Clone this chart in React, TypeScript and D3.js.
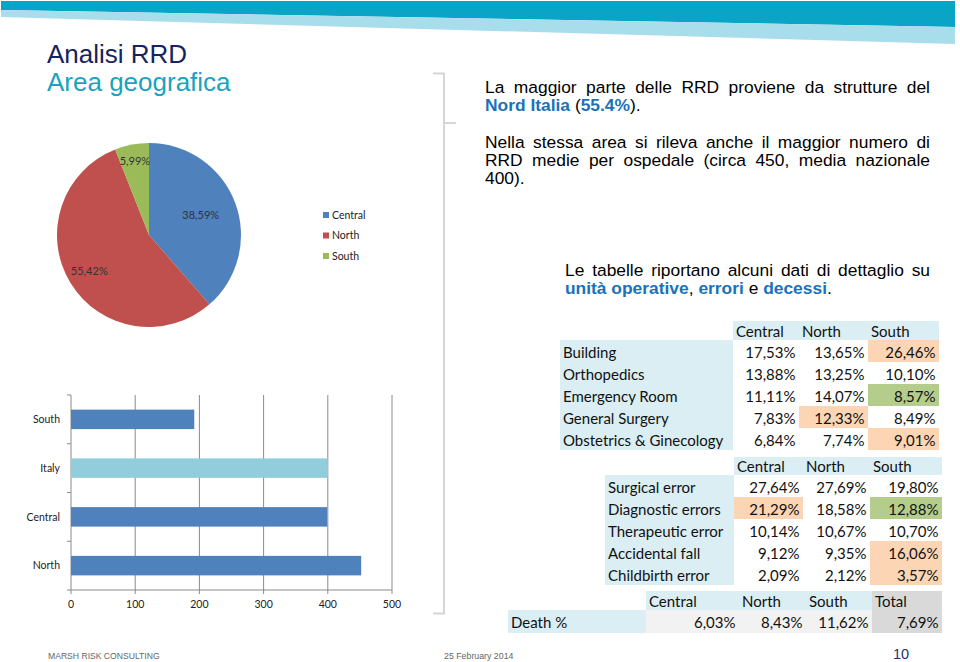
import React from "react";
import * as d3 from "d3";

// ---------- DATA ----------
const pieCategories = ["Central", "North", "South"];
const pieValues = [38.59, 55.42, 5.99];

const barCategories = ["South", "Italy", "Central", "North"];
const barValues = [192, 400, 399, 452];
const barTicks = [0, 100, 200, 300, 400, 500];

const unitColumns = ["Central", "North", "South"];
const unitRows = ["Building", "Orthopedics", "Emergency Room", "General Surgery", "Obstetrics & Ginecology"];
const unitValues = [
  [17.53, 13.65, 26.46],
  [13.88, 13.25, 10.1],
  [11.11, 14.07, 8.57],
  [7.83, 12.33, 8.49],
  [6.84, 7.74, 9.01],
];

const errorColumns = ["Central", "North", "South"];
const errorRows = ["Surgical error", "Diagnostic errors", "Therapeutic error", "Accidental fall", "Childbirth error"];
const errorValues = [
  [27.64, 27.69, 19.8],
  [21.29, 18.58, 12.88],
  [10.14, 10.67, 10.7],
  [9.12, 9.35, 16.06],
  [2.09, 2.12, 3.57],
];

const deathColumns = ["Central", "North", "South", "Total"];
const deathRows = ["Death %"];
const deathValues = [[6.03, 8.43, 11.62, 7.69]];

// ---------- STYLE ----------
const SANS = "'Liberation Sans', Arial, sans-serif";
const CAL = "Lato, 'Open Sans', sans-serif";
const BLUE_TXT = "#1B72B8";
const pieColors = ["#4F81BD", "#C0504D", "#9BBB59"];
const pieLabelRadius = [0.6, 0.76, 0.82];
const LIGHT = "#DAEEF3";
const ORANGE = "#FCD5B4";
const GREEN = "#B4CC8C";
const unitHighlight = [
  [null, null, ORANGE],
  [null, null, null],
  [null, null, GREEN],
  [null, ORANGE, null],
  [null, null, ORANGE],
];
const errorHighlight = [
  [null, null, null],
  [ORANGE, null, GREEN],
  [null, null, null],
  [null, null, ORANGE],
  [null, null, ORANGE],
];

const fmt = (v: number) => d3.format(".2f")(v).replace(".", ",") + "%";

let ctx: CanvasRenderingContext2D | null = null;
function measure(t: string, font: string) {
  if (!ctx) ctx = document.createElement("canvas").getContext("2d");
  ctx!.font = font;
  return ctx!.measureText(t).width;
}

function Justified({ text, x0, x1, y, size }: { text: string; x0: number; x1: number; y: number; size: number }) {
  const words = text.split(" ");
  const font = `${size}px 'Liberation Sans'`;
  const widths = words.map((w) => measure(w, font));
  const total = d3.sum(widths);
  const gap = (x1 - x0 - total) / (words.length - 1);
  let x = x0;
  return (
    <text y={y} fontFamily={SANS} fontSize={size} fill="#000">
      {words.map((w, i) => {
        const el = (
          <tspan key={i} x={x}>
            {w}
          </tspan>
        );
        x += widths[i] + gap;
        return el;
      })}
    </text>
  );
}

type TableProps = {
  columns: string[];
  rows: string[];
  values: number[][];
  highlight?: (string | null)[][];
  labelX0: number;
  colEdges: number[];
  headerTop: number;
  headerH: number;
  rowTop: number;
  rowH: number;
  headerFill?: (string | null)[];
  cellFill?: (string | null)[];
  fontSize: number;
};

function Table(p: TableProps) {
  const bodyBottom = p.rowTop + p.rows.length * p.rowH;
  return (
    <g fontFamily={CAL} fontSize={p.fontSize} fill="#111">
      {p.columns.map((c, j) => (
        <rect
          key={"hb" + j}
          x={p.colEdges[j]}
          y={p.headerTop}
          width={p.colEdges[j + 1] - p.colEdges[j]}
          height={p.headerH}
          fill={(p.headerFill && p.headerFill[j]) || LIGHT}
        />
      ))}
      <rect x={p.labelX0} y={p.rowTop} width={p.colEdges[0] - p.labelX0} height={bodyBottom - p.rowTop} fill={LIGHT} />
      {p.rows.map((r, i) =>
        p.columns.map((c, j) => {
          const f = (p.highlight && p.highlight[i][j]) || (p.cellFill && p.cellFill[j]) || null;
          return f ? (
            <rect
              key={"c" + i + "-" + j}
              x={p.colEdges[j]}
              y={p.rowTop + i * p.rowH}
              width={p.colEdges[j + 1] - p.colEdges[j]}
              height={p.rowH}
              fill={f}
            />
          ) : null;
        })
      )}
      {p.columns.map((c, j) => (
        <text key={"ht" + j} x={p.colEdges[j] + 3} y={p.headerTop + p.headerH - 3.5}>
          {c}
        </text>
      ))}
      {p.rows.map((r, i) => (
        <text key={"rl" + i} x={p.labelX0 + 3} y={p.rowTop + i * p.rowH + 17.5}>
          {r}
        </text>
      ))}
      {p.values.map((row, i) =>
        row.map((v, j) => (
          <text key={"v" + i + "-" + j} x={p.colEdges[j + 1] - 3.5} y={p.rowTop + i * p.rowH + 17.5} textAnchor="end">
            {fmt(v)}
          </text>
        ))
      )}
    </g>
  );
}

export default function App() {
  // Pie
  const cx = 149,
    cy = 235,
    R = 92;
  const pie = d3.pie<number>().sort(null).value((d) => d)(pieValues);
  const arc = d3.arc<d3.PieArcDatum<number>>().innerRadius(0).outerRadius(R);

  // Bars
  const x = d3.scaleLinear().domain([0, 500]).range([71, 392]);
  const y = d3.scaleBand<string>().domain(barCategories).range([395, 590]).paddingInner(0.6).paddingOuter(0.3);
  const step = y.step();
  const [yTop, yBot] = y.range();

  return (
    <svg width={960} height={662} style={{ position: "absolute", left: 0, top: 0, background: "#fff" }}>
      <rect width={960} height={662} fill="#fff" />
      {/* banner */}
      <polygon points="1,1 955,1 955,27 1,10" fill="#0AA5C6" />
      <polygon points="1,10 955,27 955,44 1,17" fill="#A8DDEC" />

      {/* titles */}
      <text x={47} y={63} fontFamily={SANS} fontSize={26} fill="#14245E">
        Analisi RRD
      </text>
      <text x={47} y={90.5} fontFamily={SANS} fontSize={26} fill="#1AA3BE">
        Area geografica
      </text>

      {/* bracket */}
      <path d="M433,73.5 H444 V613.5 H433" fill="none" stroke="#D6D6D6" strokeWidth={2} />
      <path d="M444,123 H456" fill="none" stroke="#D6D6D6" strokeWidth={2} />

      {/* paragraphs */}
      <Justified text="La maggior parte delle RRD proviene da strutture del" x0={485} x1={930} y={93} size={17.4} />
      <text x={485} y={110.5} fontFamily={SANS} fontSize={17.4} fill="#000">
        <tspan fontWeight="bold" fill={BLUE_TXT}>
          Nord Italia
        </tspan>
        <tspan> (</tspan>
        <tspan fontWeight="bold" fill={BLUE_TXT}>
          55.4%
        </tspan>
        <tspan>).</tspan>
      </text>
      <Justified text="Nella stessa area si rileva anche il maggior numero di" x0={485} x1={930} y={147.5} size={17.4} />
      <Justified text="RRD medie per ospedale (circa 450, media nazionale" x0={485} x1={930} y={165.5} size={17.4} />
      <text x={485} y={183.5} fontFamily={SANS} fontSize={17.4} fill="#000">
        400).
      </text>
      <Justified text="Le tabelle riportano alcuni dati di dettaglio su" x0={565} x1={930} y={276} size={17.4} />
      <text x={565} y={293.5} fontFamily={SANS} fontSize={17.4} fill="#000">
        <tspan fontWeight="bold" fill={BLUE_TXT}>
          unità operative
        </tspan>
        <tspan>, </tspan>
        <tspan fontWeight="bold" fill={BLUE_TXT}>
          errori
        </tspan>
        <tspan> e </tspan>
        <tspan fontWeight="bold" fill={BLUE_TXT}>
          decessi
        </tspan>
        <tspan>.</tspan>
      </text>

      {/* pie */}
      <g transform={`translate(${cx},${cy})`}>
        {pie.map((d, i) => (
          <path key={i} d={arc(d) as string} fill={pieColors[i]} />
        ))}
        {pie.map((d, i) => {
          const a = (d.startAngle + d.endAngle) / 2;
          const r = R * pieLabelRadius[i];
          return (
            <text
              key={"l" + i}
              x={Math.sin(a) * r}
              y={-Math.cos(a) * r}
              dy="0.35em"
              textAnchor="middle"
              fontFamily={CAL}
              fontSize={11}
              fill="#333"
            >
              {fmt(pieValues[i])}
            </text>
          );
        })}
      </g>
      {/* pie legend */}
      <g fontFamily={CAL} fontSize={10.5} fill="#222">
        {pieCategories.map((c, i) => (
          <g key={c} transform={`translate(323,${215 + i * 20.5})`}>
            <rect x={0} y={-3} width={6} height={6} fill={pieColors[i]} />
            <text x={9} dy="0.35em">
              {c}
            </text>
          </g>
        ))}
      </g>

      {/* bar chart */}
      <g>
        {barTicks.map((t) => (
          <line key={"g" + t} x1={x(t)} x2={x(t)} y1={yTop} y2={yBot + 4} stroke="#8A8A8A" strokeWidth={1} />
        ))}
        <line x1={x(0)} x2={x(500)} y1={yBot} y2={yBot} stroke="#8A8A8A" strokeWidth={1} />
        {d3.range(barCategories.length + 1).map((k) => (
          <line key={"yt" + k} x1={x(0) - 4} x2={x(0)} y1={yTop + k * step} y2={yTop + k * step} stroke="#8A8A8A" />
        ))}
        {barCategories.map((c, i) => (
          <rect
            key={c}
            x={x(0)}
            y={y(c)}
            width={x(barValues[i]) - x(0)}
            height={y.bandwidth()}
            fill={c === "Italy" ? "#92CDDC" : "#4F81BD"}
          />
        ))}
        {barCategories.map((c) => (
          <text
            key={"yl" + c}
            x={60}
            y={(y(c) as number) + y.bandwidth() / 2}
            dy="0.35em"
            textAnchor="end"
            fontFamily={CAL}
            fontSize={10.5}
            fill="#222"
          >
            {c}
          </text>
        ))}
        {barTicks.map((t) => (
          <text key={"xl" + t} x={x(t)} y={608} textAnchor="middle" fontFamily={CAL} fontSize={10.5} fill="#222">
            {t}
          </text>
        ))}
      </g>

      {/* tables */}
      <Table
        columns={unitColumns}
        rows={unitRows}
        values={unitValues}
        highlight={unitHighlight}
        labelX0={560}
        colEdges={[733, 799, 868, 939]}
        headerTop={321}
        headerH={19}
        rowTop={340}
        rowH={22}
        fontSize={15}
      />
      <Table
        columns={errorColumns}
        rows={errorRows}
        values={errorValues}
        highlight={errorHighlight}
        labelX0={605}
        colEdges={[734, 803, 870, 942]}
        headerTop={457}
        headerH={18}
        rowTop={475}
        rowH={22}
        fontSize={15}
      />
      <Table
        columns={deathColumns}
        rows={deathRows}
        values={deathValues}
        labelX0={508}
        colEdges={[646, 739, 806, 872, 942]}
        headerTop={591}
        headerH={19}
        rowTop={610}
        rowH={23}
        headerFill={[null, null, null, "#D9D9D9"]}
        cellFill={["#F2F2F2", "#F2F2F2", "#F2F2F2", "#D9D9D9"]}
        fontSize={15}
      />

      {/* footer */}
      <text x={48} y={659} fontFamily={SANS} fontSize={8.6} fill="#666">
        MARSH RISK CONSULTING
      </text>
      <text x={444} y={659} fontFamily={SANS} fontSize={8.8} fill="#666">
        25 February 2014
      </text>
      <text x={893} y={659} fontFamily={SANS} fontSize={14.5} fill="#1F3366">
        10
      </text>
    </svg>
  );
}
